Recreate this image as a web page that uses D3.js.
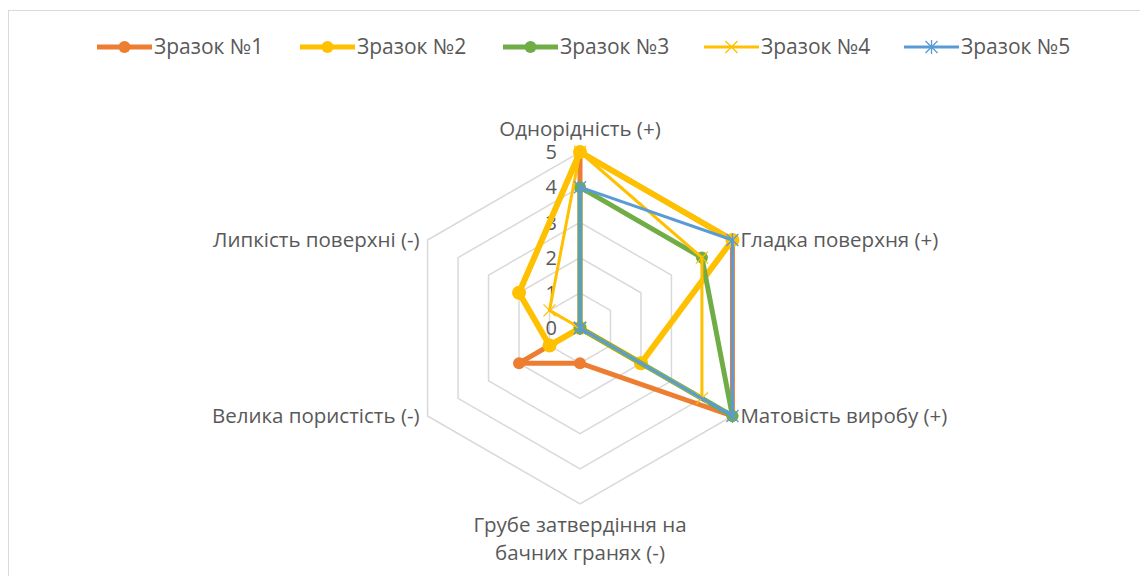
<!DOCTYPE html>
<html><head><meta charset="utf-8">
<script src="https://cdn.jsdelivr.net/npm/d3@7"></script>
<style>
html,body{margin:0;padding:0;background:#fff;}
text{font-family:"Open Sans","Noto Sans",sans-serif;fill:#595959;}
</style></head>
<body>
<svg id="chart" width="1140" height="576"></svg>
<script>
const categories = ["Однорідність (+)", "Гладка поверхня (+)", "Матовість виробу (+)", "Грубе затвердіння на бачних гранях (-)", "Велика пористість (-)", "Липкість поверхні (-)"];
const seriesNames = ["Зразок №1", "Зразок №2", "Зразок №3", "Зразок №4", "Зразок №5"];
const s1 = [5, 5, 5, 1, 2, 0];
const s2 = [5, 5, 2, 0, 1, 2];
const s3 = [4, 4, 5, 0, 0, 0];
const s4 = [5, 4, 4, 0, 0, 1];
const s5 = [4, 5, 5, 0, 0, 0];
const tickValues = [0, 1, 2, 3, 4, 5];
const colors = ["#ED7D31", "#FFC000", "#70AD47", "#FFC000", "#5B9BD5"];
const markers = ["circle", "circle", "circle", "x", "star"];
const widths = [5, 6, 5, 3, 3];

const series = [s1, s2, s3, s4, s5];
const svg = d3.select("#chart");
const cx = 580, cy = 328, R = 176;

svg.append("rect").attr("x", 8.5).attr("y", 10.5).attr("width", 1140).attr("height", 600)
  .attr("fill", "#fff").attr("stroke", "#d9d9d9").attr("stroke-width", 1);

const r = d3.scaleLinear().domain([0, 5]).range([0, R]);
const angle = d3.scaleLinear().domain([0, categories.length]).range([-Math.PI / 2, 1.5 * Math.PI]);
const pt = (i, v) => [cx + r(v) * Math.cos(angle(i)), cy + r(v) * Math.sin(angle(i))];

// grid
const g = svg.append("g");
tickValues.filter(t => t > 0).forEach(t => {
  const pts = categories.map((c, i) => pt(i, t));
  g.append("path").attr("d", d3.line()(pts) + "Z").attr("fill", "none")
    .attr("stroke", "#d9d9d9").attr("stroke-width", 1.5);
});

// tick labels
tickValues.forEach(t => {
  g.append("text").attr("x", cx - 23).attr("y", cy - r(t)).attr("dy", "0.36em")
    .attr("text-anchor", "end").style("font-size", "20px").text(t);
});

// category labels
const lab = svg.append("g").style("font-size", "20.5px");
lab.append("text").attr("x", cx).attr("y", cy - R - 16).attr("text-anchor", "middle").text(categories[0]);
let p = pt(1, 5);
lab.append("text").attr("x", p[0] + 8).attr("y", p[1]).attr("dy", "0.35em").text(categories[1]);
p = pt(2, 5);
lab.append("text").attr("x", p[0] + 8).attr("y", p[1]).attr("dy", "0.35em").text(categories[2]);
p = pt(3, 5);
const t3 = lab.append("text").attr("x", cx).attr("y", p[1] + 28).attr("text-anchor", "middle");
t3.append("tspan").attr("x", cx).text("Грубе затвердіння на");
t3.append("tspan").attr("x", cx).attr("dy", 28).text("бачних гранях (-)");
p = pt(4, 5);
lab.append("text").attr("x", p[0] - 8).attr("y", p[1]).attr("dy", "0.35em").attr("text-anchor", "end").text(categories[4]);
p = pt(5, 5);
lab.append("text").attr("x", p[0] - 8).attr("y", p[1]).attr("dy", "0.35em").attr("text-anchor", "end").text(categories[5]);

function drawMarker(sel, type, x, y, color, size) {
  if (type === "circle") {
    sel.append("circle").attr("cx", x).attr("cy", y).attr("r", size).attr("fill", color);
  } else if (type === "x") {
    const s = 6;
    sel.append("path").attr("d", `M${x - s},${y - s}L${x + s},${y + s}M${x - s},${y + s}L${x + s},${y - s}`)
      .attr("stroke", color).attr("stroke-width", 1.3);
  } else {
    const s = 6;
    sel.append("path").attr("d", `M${x - s},${y - s}L${x + s},${y + s}M${x - s},${y + s}L${x + s},${y - s}M${x},${y - s - 1}L${x},${y + s + 1}`)
      .attr("stroke", color).attr("stroke-width", 1.3);
  }
}

const radarLine = d3.line();
series.forEach((data, si) => {
  const gg = svg.append("g");
  const pts = data.map((v, i) => pt(i, v));
  gg.append("path").attr("d", radarLine(pts) + "Z").attr("fill", "none")
    .attr("stroke", colors[si]).attr("stroke-width", widths[si]).attr("stroke-linejoin", "round");
  pts.forEach(q => drawMarker(gg, markers[si], q[0], q[1], colors[si], si === 1 ? 7 : 6));
});

// legend
const legX = [97, 300, 503, 704, 904];
seriesNames.forEach((n, i) => {
  const lg = svg.append("g");
  const x0 = legX[i], y0 = 47;
  lg.append("line").attr("x1", x0).attr("x2", x0 + 55).attr("y1", y0).attr("y2", y0)
    .attr("stroke", colors[i]).attr("stroke-width", i < 3 ? 5 : 3);
  drawMarker(lg, markers[i], x0 + 27.5, y0, colors[i], 6);
  lg.append("text").attr("x", x0 + 57).attr("y", y0).attr("dy", "0.35em").style("font-size", "21px").text(n);
});
</script>
</body></html>
